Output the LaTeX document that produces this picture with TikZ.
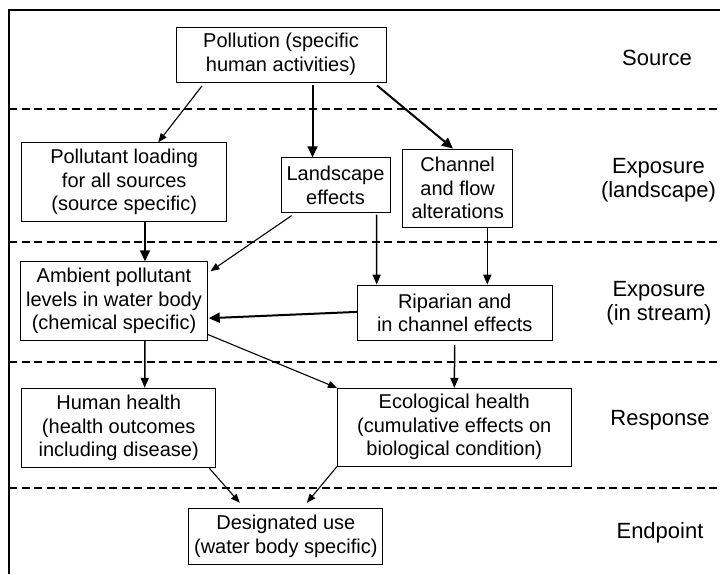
\documentclass[tikz,border=0pt]{standalone}
\usepackage{fontspec}
\setmainfont{Liberation Sans}
\usepackage{tikz}
\usetikzlibrary{arrows.meta}

\begin{document}
\begin{tikzpicture}[x=1pt, y=-1pt,
		box/.style={draw, line width=0.9pt, align=center, inner sep=0pt, font=\fontsize{20pt}{23.6pt}\selectfont},
		tier/.style={align=center, inner sep=0pt, font=\fontsize{22pt}{24pt}\selectfont},
		thinarrow/.style={line width=1.1pt, -{Triangle[length=9pt, width=7pt]}},
		medarrow/.style={line width=1.5pt, -{Triangle[length=10pt, width=8pt]}},
		thickarrow/.style={line width=2pt, -{Triangle[length=11pt, width=10pt]}},
		divider/.style={line width=1.8pt, dash pattern=on 8pt off 4.5pt}]
			%%%%% START %%%%%
			
			\useasboundingbox (0, 0) rectangle (720, 574);
			\fill[white] (0, 0) rectangle (720, 574);
			
			\draw[line width=1.8pt] (720, 10) -- (9.3, 10) -- (9.3, 574);
			
			\draw[divider] (9.3, 109) -- (720, 109);
			\draw[divider] (9.3, 241.7) -- (720, 241.7);
			\draw[divider] (9.3, 361.7) -- (720, 361.7);
			\draw[divider] (9.3, 488.3) -- (720, 488.3);
			
			\node[box, minimum width=210pt, minimum height=55pt] (pollution) at (281, 54.5) {Pollution (specific\\human activities)};
			
			\node[box, minimum width=205pt, minimum height=78.3pt] (loading) at (124.2, 181.9) {Pollutant loading\\for all sources\\(source specific)};
			\node[box, minimum width=109pt, minimum height=55pt] (landscape) at (335.5, 185.2) {Landscape\\effects};
			\node[box, minimum width=110pt, minimum height=78.3pt] (channel) at (457.7, 188.2) {Channel\\and flow\\alterations};
			
			\node[box, minimum width=186.6pt, minimum height=79pt] (ambient) at (114, 301.2) {Ambient pollutant\\levels in water body\\(chemical specific)};
			\node[box, minimum width=194.7pt, minimum height=55.7pt] (riparian) at (454.7, 312.9) {Riparian and\\in channel effects};
			
			\node[box, minimum width=194.2pt, minimum height=79.4pt] (human) at (118.7, 428) {Human health\\(health outcomes\\including disease)};
			\node[box, minimum width=233.7pt, minimum height=77.7pt] (ecological) at (454.3, 427.2) {Ecological health\\(cumulative effects on\\biological condition)};
			
			\node[box, minimum width=194.2pt, minimum height=55.7pt] (designated) at (285.8, 536.2) {Designated use\\(water body specific)};
			
			\node[tier] (source) at (657, 58) {Source};
			\node[tier] (explandscape) at (658.5, 180) {Exposure\\(landscape)};
			\node[tier] (expstream) at (659, 303) {Exposure\\(in stream)};
			\node[tier] (response) at (660, 420) {Response};
			\node[tier] (endpoint) at (660, 533) {Endpoint};
			
			\draw[thinarrow] ([xshift=-79pt, yshift=-3.5pt]pollution.south) -- ([xshift=34pt]loading.north);
			\draw[thickarrow] ([xshift=31.5pt, yshift=-3pt]pollution.south) -- ([xshift=-23pt]landscape.north);
			\draw[thickarrow] ([xshift=96pt, yshift=-3pt]pollution.south) -- ([xshift=-4.7pt]channel.north);
			
			\draw[thickarrow] ([xshift=20.8pt]loading.south) -- ([xshift=31pt]ambient.north);
			\draw[thinarrow] ([xshift=11pt, yshift=-2.5pt]landscape.south west) -- ([xshift=2.7pt, yshift=-10pt]ambient.north east);
			\draw[medarrow] ([xshift=41pt, yshift=-1.5pt]landscape.south) -- ([xshift=-78pt]riparian.north);
			\draw[medarrow] ([xshift=29.6pt]channel.south) -- ([xshift=32.6pt]riparian.north);
			
			\draw[thickarrow] ([yshift=1pt]riparian.west) -- ([xshift=1pt, yshift=-17pt]ambient.east);
			\draw[medarrow] ([xshift=31pt]ambient.south) -- ([xshift=26pt]human.north);
			\draw[thinarrow] ([yshift=6.7pt]ambient.south east) -- (ecological.north west);
			\draw[medarrow] ([yshift=-4pt]riparian.south) -- (ecological.north);
			
			\draw[thinarrow] ([xshift=-7pt]human.south east) -- ([xshift=-46pt, yshift=5pt]designated.north);
			\draw[thinarrow] (ecological.south west) -- ([xshift=21pt, yshift=5pt]designated.north);
			
			%%%%% END %%%%%
		\end{tikzpicture}
\end{document}
